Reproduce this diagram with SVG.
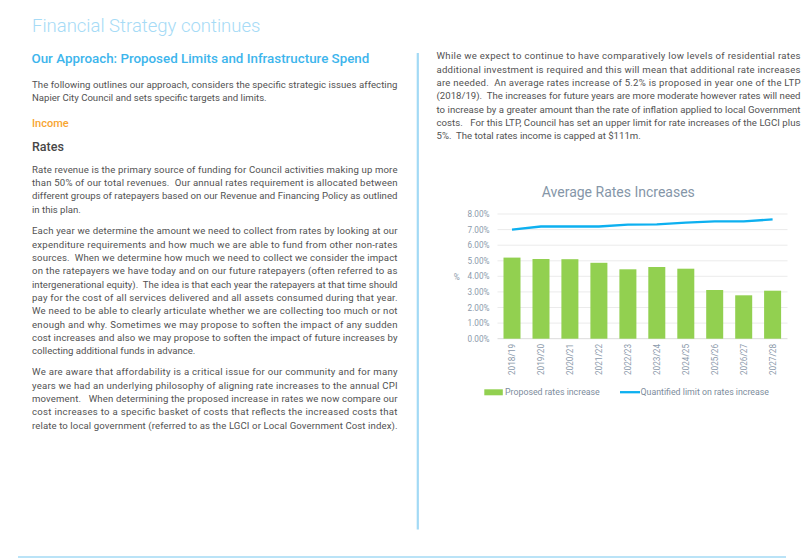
<svg xmlns="http://www.w3.org/2000/svg" width="810" height="558" viewBox="0 0 810 558">
<style>
.body{font-family:Roboto,"Liberation Sans",sans-serif;font-size:9.6px;fill:#525252;white-space:pre}
.title{font-family:Roboto,"Liberation Sans",sans-serif;font-weight:300;font-size:18.5px;fill:#a6dbf6}
.h1{font-family:Roboto,"Liberation Sans",sans-serif;font-weight:500;font-size:13.35px;fill:#3db5ec}
.h2{font-family:Roboto,"Liberation Sans",sans-serif;font-weight:500;font-size:11px;fill:#f7a531}
.h3{font-family:Roboto,"Liberation Sans",sans-serif;font-weight:500;font-size:12.5px;fill:#474747}
.ax{font-family:Roboto,"Liberation Sans",sans-serif;font-size:8.2px;fill:#8c9aab}
.ctitle{font-family:Roboto,"Liberation Sans",sans-serif;font-size:14px;fill:#8596a8}
.leg{font-family:Roboto,"Liberation Sans",sans-serif;font-size:8.8px;fill:#7d8c9c}
.grid{stroke:#ebebeb;stroke-width:1}
.bar{fill:#92d050}
.rule{stroke:#a3daf5}
</style>
<rect width="810" height="558" fill="#ffffff"/>
<g id="page-lines">
<line class="rule" x1="417.8" y1="53" x2="417.8" y2="529.5" stroke-width="2.2"/>
<line class="rule" x1="18" y1="557" x2="786" y2="557" stroke-width="1.5"/>
</g>
<g id="headings">
<text class="title" x="32" y="32.3">Financial Strategy continues</text>
<text class="h1" x="31.5" y="63.3">Our Approach: Proposed Limits and Infrastructure Spend</text>
<text class="h2" x="32" y="126.5">Income</text>
<text class="h3" x="32" y="151">Rates</text>
</g>
<g id="left-text">
<text class="body" x="32" y="87.7" textLength="365.5" lengthAdjust="spacing">The following outlines our approach, considers the specific strategic issues affecting</text>
<text class="body" x="32" y="101">Napier City Council and sets specific targets and limits.</text>
<text class="body" x="32" y="172.6" textLength="365.5" lengthAdjust="spacing">Rate revenue is the primary source of funding for Council activities making up more</text>
<text class="body" x="32" y="186" textLength="365.5" lengthAdjust="spacing">than 50% of our total revenues.  Our annual rates requirement is allocated between</text>
<text class="body" x="32" y="199.3" textLength="365.5" lengthAdjust="spacing">different groups of ratepayers based on our Revenue and Financing Policy as outlined</text>
<text class="body" x="32" y="212.6">in this plan.</text>
<text class="body" x="32" y="234.3" textLength="365.5" lengthAdjust="spacing">Each year we determine the amount we need to collect from rates by looking at our</text>
<text class="body" x="32" y="247.6" textLength="365.5" lengthAdjust="spacing">expenditure requirements and how much we are able to fund from other non-rates</text>
<text class="body" x="32" y="261" textLength="365.5" lengthAdjust="spacing">sources.  When we determine how much we need to collect we consider the impact</text>
<text class="body" x="32" y="274.3" textLength="365.5" lengthAdjust="spacing">on the ratepayers we have today and on our future ratepayers (often referred to as</text>
<text class="body" x="32" y="287.6" textLength="365.5" lengthAdjust="spacing">intergenerational equity).  The idea is that each year the ratepayers at that time should</text>
<text class="body" x="32" y="301" textLength="365.5" lengthAdjust="spacing">pay for the cost of all services delivered and all assets consumed during that year.</text>
<text class="body" x="32" y="314.3" textLength="365.5" lengthAdjust="spacing">We need to be able to clearly articulate whether we are collecting too much or not</text>
<text class="body" x="32" y="327.6" textLength="365.5" lengthAdjust="spacing">enough and why. Sometimes we may propose to soften the impact of any sudden</text>
<text class="body" x="32" y="341" textLength="365.5" lengthAdjust="spacing">cost increases and also we may propose to soften the impact of future increases by</text>
<text class="body" x="32" y="354.3">collecting additional funds in advance.</text>
<text class="body" x="32" y="375.3" textLength="365.5" lengthAdjust="spacing">We are aware that affordability is a critical issue for our community and for many</text>
<text class="body" x="32" y="388.6" textLength="365.5" lengthAdjust="spacing">years we had an underlying philosophy of aligning rate increases to the annual CPI</text>
<text class="body" x="32" y="402" textLength="365.5" lengthAdjust="spacing">movement.   When determining the proposed increase in rates we now compare our</text>
<text class="body" x="32" y="415.3" textLength="365.5" lengthAdjust="spacing">cost increases to a specific basket of costs that reflects the increased costs that</text>
<text class="body" x="32" y="428.6" textLength="365.5" lengthAdjust="spacing">relate to local government (referred to as the LGCI or Local Government Cost index).</text>
</g>
<g id="right-text">
<text class="body" x="436.5" y="59.3" textLength="364" lengthAdjust="spacing">While we expect to continue to have comparatively low levels of residential rates</text>
<text class="body" x="436.5" y="72.6" textLength="364" lengthAdjust="spacing">additional investment is required and this will mean that additional rate increases</text>
<text class="body" x="436.5" y="86" textLength="364" lengthAdjust="spacing">are needed.  An average rates increase of 5.2% is proposed in year one of the LTP</text>
<text class="body" x="436.5" y="99.3" textLength="364" lengthAdjust="spacing">(2018/19).  The increases for future years are more moderate however rates will need</text>
<text class="body" x="436.5" y="112.6" textLength="364" lengthAdjust="spacing">to increase by a greater amount than the rate of inflation applied to local Government</text>
<text class="body" x="436.5" y="126" textLength="364" lengthAdjust="spacing">costs.   For this LTP, Council has set an upper limit for rate increases of the LGCI plus</text>
<text class="body" x="436.5" y="139.3">5%.  The total rates income is capped at $111m.</text>
</g>
<g id="chart">
<text class="ctitle" x="618.3" y="197.3" text-anchor="middle">Average Rates Increases</text>
<g id="gridlines">
<line class="grid" x1="497.5" y1="214" x2="787.5" y2="214"/>
<line class="grid" x1="497.5" y1="229.6" x2="787.5" y2="229.6"/>
<line class="grid" x1="497.5" y1="245.2" x2="787.5" y2="245.2"/>
<line class="grid" x1="497.5" y1="260.8" x2="787.5" y2="260.8"/>
<line class="grid" x1="497.5" y1="276.3" x2="787.5" y2="276.3"/>
<line class="grid" x1="497.5" y1="291.9" x2="787.5" y2="291.9"/>
<line class="grid" x1="497.5" y1="307.5" x2="787.5" y2="307.5"/>
<line class="grid" x1="497.5" y1="323.1" x2="787.5" y2="323.1"/>
<line x1="497.5" y1="338.7" x2="787.5" y2="338.7" stroke="#dcdcdc" stroke-width="1"/>
</g>
<g id="y-axis" text-anchor="end">
<text class="ax" x="489.5" y="217">8.00%</text>
<text class="ax" x="489.5" y="232.6">7.00%</text>
<text class="ax" x="489.5" y="248.2">6.00%</text>
<text class="ax" x="489.5" y="263.8">5.00%</text>
<text class="ax" x="489.5" y="279.3">4.00%</text>
<text class="ax" x="489.5" y="294.9">3.00%</text>
<text class="ax" x="489.5" y="310.5">2.00%</text>
<text class="ax" x="489.5" y="326.1">1.00%</text>
<text class="ax" x="489.5" y="341.7">0.00%</text>
<text class="ax" x="456.7" y="280" text-anchor="middle" font-size="9">%</text>
</g>
<g id="bars">
<rect class="bar" x="503.5" y="257.6" width="17" height="81.1"/>
<rect class="bar" x="532.5" y="259" width="17" height="79.7"/>
<rect class="bar" x="561.4" y="259.2" width="17" height="79.5"/>
<rect class="bar" x="590.4" y="262.8" width="17" height="75.9"/>
<rect class="bar" x="619.4" y="269.3" width="17" height="69.4"/>
<rect class="bar" x="648.3" y="267" width="17" height="71.7"/>
<rect class="bar" x="677.3" y="268.7" width="17" height="70"/>
<rect class="bar" x="706.2" y="290" width="17" height="48.7"/>
<rect class="bar" x="735.2" y="295.3" width="17" height="43.4"/>
<rect class="bar" x="764.1" y="290.7" width="17" height="48"/>
</g>
<polyline id="limit-line" fill="none" stroke="#0db0f0" stroke-width="2.3" stroke-linejoin="round" points="512,229.6 540.9,226.5 569.9,226.5 598.9,226.5 627.9,224.7 656.8,224.4 685.8,222.7 714.7,221.4 743.7,221.4 772.6,219.4"/>
<g id="x-axis" text-anchor="end">
<text class="ax" transform="translate(515,344) rotate(-90)">2018/19</text>
<text class="ax" transform="translate(543.9,344) rotate(-90)">2019/20</text>
<text class="ax" transform="translate(572.9,344) rotate(-90)">2020/21</text>
<text class="ax" transform="translate(601.9,344) rotate(-90)">2021/22</text>
<text class="ax" transform="translate(630.9,344) rotate(-90)">2022/23</text>
<text class="ax" transform="translate(659.8,344) rotate(-90)">2023/24</text>
<text class="ax" transform="translate(688.8,344) rotate(-90)">2024/25</text>
<text class="ax" transform="translate(717.7,344) rotate(-90)">2025/26</text>
<text class="ax" transform="translate(746.7,344) rotate(-90)">2026/27</text>
<text class="ax" transform="translate(775.6,344) rotate(-90)">2027/28</text>
</g>
<g id="legend">
<rect class="bar" x="484.3" y="389.3" width="18.5" height="6"/>
<text class="leg" x="505" y="395.3">Proposed rates increase</text>
<line x1="620" y1="392.2" x2="640" y2="392.2" stroke="#0db0f0" stroke-width="2.3"/>
<text class="leg" x="640.5" y="395.3">Quantified limit on rates increase</text>
</g>
</g>
</svg>
